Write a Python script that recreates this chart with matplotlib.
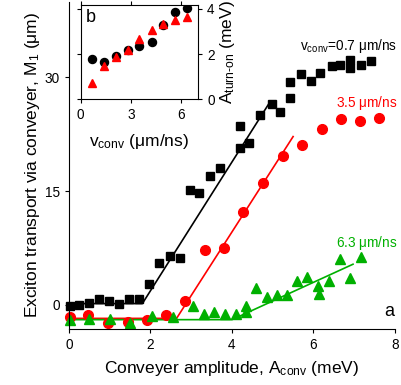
import matplotlib
matplotlib.use("Agg")
import matplotlib.pyplot as plt

plt.rcParams['font.family'] = ['Liberation Sans', 'DejaVu Sans']
plt.rcParams['mathtext.fontset'] = 'custom'
plt.rcParams['mathtext.rm'] = 'Liberation Sans'
plt.rcParams['mathtext.it'] = 'Liberation Sans'

# main panel (a): M1 vs conveyer amplitude
a_black = [0.02, 0.25, 0.5, 0.74, 0.99, 1.23, 1.48, 1.72, 1.97, 2.21, 2.48, 2.72, 2.98, 3.18,
           3.46, 3.70, 4.19, 4.41, 4.19, 4.68, 4.97, 5.19, 5.42, 5.42, 5.70, 5.95, 6.17, 6.46,
           6.66, 6.89, 6.89, 7.16, 7.40]
m_black = [-0.13, -0.1, 0.2, 0.75, 0.43, 0.09, 0.75, 0.75, 2.76, 5.5, 6.45, 6.2, 15.1, 14.8,
           17.0, 18.0, 20.7, 21.4, 23.55, 25.1, 26.5, 25.4, 27.3, 29.4, 30.5, 29.55, 30.6, 31.5,
           31.6, 32.3, 31.3, 31.6, 32.2]
a_red = [0.02, 0.47, 0.96, 1.45, 1.92, 2.38, 2.85, 3.33, 3.80, 4.27, 4.76, 5.24, 5.73, 6.2,
         6.68, 7.15, 7.62]
m_red = [-1.6, -1.3, -2.4, -2.3, -2.06, -1.3, 0.43, 7.2, 7.45, 12.3, 16.1, 19.6, 21.05, 23.2,
         24.55, 24.25, 24.7]
a_green = [0.02, 0.5, 1.0, 1.5, 2.03, 2.56, 3.05, 3.32, 3.56, 3.82, 4.09, 4.34, 4.34, 4.6,
           4.85, 5.11, 5.36, 5.6, 5.85, 6.11, 6.13, 6.38, 6.64, 6.89, 7.16]
m_green = [-1.97, -1.9, -1.9, -2.4, -1.5, -1.6, -0.2, -1.2, -1.0, -1.2, -1.2, -0.13, -1.0, 2.2,
           1.0, 1.3, 1.3, 3.07, 3.6, 2.5, 1.45, 3.07, 6.0, 3.5, 6.36]

# fitted lines (piecewise linear)
fit_black_x = [0.0, 1.8, 4.93]
fit_black_y = [0.15, 0.15, 26.75]
fit_red_x = [0.0, 2.64, 5.5]
fit_red_y = [-1.8, -1.8, 22.2]
fit_green_x = [0.0, 4.0, 6.97]
fit_green_y = [-1.97, -1.97, 5.35]

# inset (b): turn-on amplitude vs conveyer velocity
v_conv = [0.69, 1.38, 2.1, 2.83, 3.5, 4.23, 4.92, 5.61, 6.31]
aturn_black = [1.77, 1.66, 1.92, 2.18, 2.37, 2.55, 3.29, 3.85, 4.03]
aturn_red = [0.73, 1.49, 1.86, 2.2, 2.65, 3.07, 3.32, 3.51, 3.63]

green = '#00b000'
red = '#ff0000'

fig = plt.figure(figsize=(4.01, 3.85), dpi=100)
ax = fig.add_axes([0.172, 0.1455, 0.813, 0.85])
ax.plot(fit_black_x, fit_black_y, color='black', lw=1.2)
ax.plot(fit_red_x, fit_red_y, color=red, lw=1.2)
ax.plot(fit_green_x, fit_green_y, color=green, lw=1.2)
ax.plot(a_black, m_black, 's', color='black', ms=6.3, clip_on=False)
ax.plot(a_red, m_red, 'o', color=red, ms=7, clip_on=False)
ax.plot(a_green, m_green, '^', color=green, ms=7, clip_on=False)

ax.set_xlim(0, 8)
ax.set_ylim(-3.2, 40)
ax.set_xticks([0, 2, 4, 6, 8])
ax.set_yticks([0, 15, 30])
for s in ['top', 'right']:
    ax.spines[s].set_visible(False)
ax.tick_params(labelsize=9.8, length=3, width=0.8)
ax.set_xlabel('Conveyer amplitude, A$_{\\rm conv}$ (meV)', fontsize=12.5, labelpad=5)
ax.set_ylabel('Exciton transport via conveyer, M$_{\\rm 1}$ ($\\mu$m)', fontsize=12.5, labelpad=2)

ax.text(8.06, 34.2, 'v$_{\\rm conv}$=0.7 $\\mu$m/ns', color='black', fontsize=9.8,
        ha='right', va='center')
ax.text(8.06, 26.6, '3.5 $\\mu$m/ns', color=red, fontsize=9.8, ha='right', va='center')
ax.text(8.06, 8.2, '6.3 $\\mu$m/ns', color=green, fontsize=9.8, ha='right', va='center')
ax.text(7.98, -0.9, 'a', fontsize=13, ha='right', va='center')

ins = fig.add_axes([0.201, 0.742, 0.2933, 0.246])
ins.plot(v_conv, aturn_black, 'o', color='black', ms=5.8)
ins.plot(v_conv, aturn_red, '^', color=red, ms=6.2)
ins.set_xlim(0, 7)
ins.set_ylim(0, 4.19)
ins.set_xticks([0, 3, 6])
ins.set_yticks([0, 2, 4])
ins.yaxis.tick_right()
ins.yaxis.set_label_position('right')
ins.tick_params(labelsize=9.8, length=3, width=0.8)
ins.tick_params(axis='y', which='both', left=True, right=True, direction='out')
ins.tick_params(axis='x', top=True, direction='out')
ins.set_xlabel('v$_{\\rm conv}$ ($\\mu$m/ns)', fontsize=12.5, labelpad=7)
ins.set_ylabel('A$_{\\rm turn\\text{-}on}$ (meV)', fontsize=12.5, labelpad=2)
ins.text(0.3, 3.6, 'b', fontsize=13, va='center')

fig.savefig('out.png', dpi=100)
